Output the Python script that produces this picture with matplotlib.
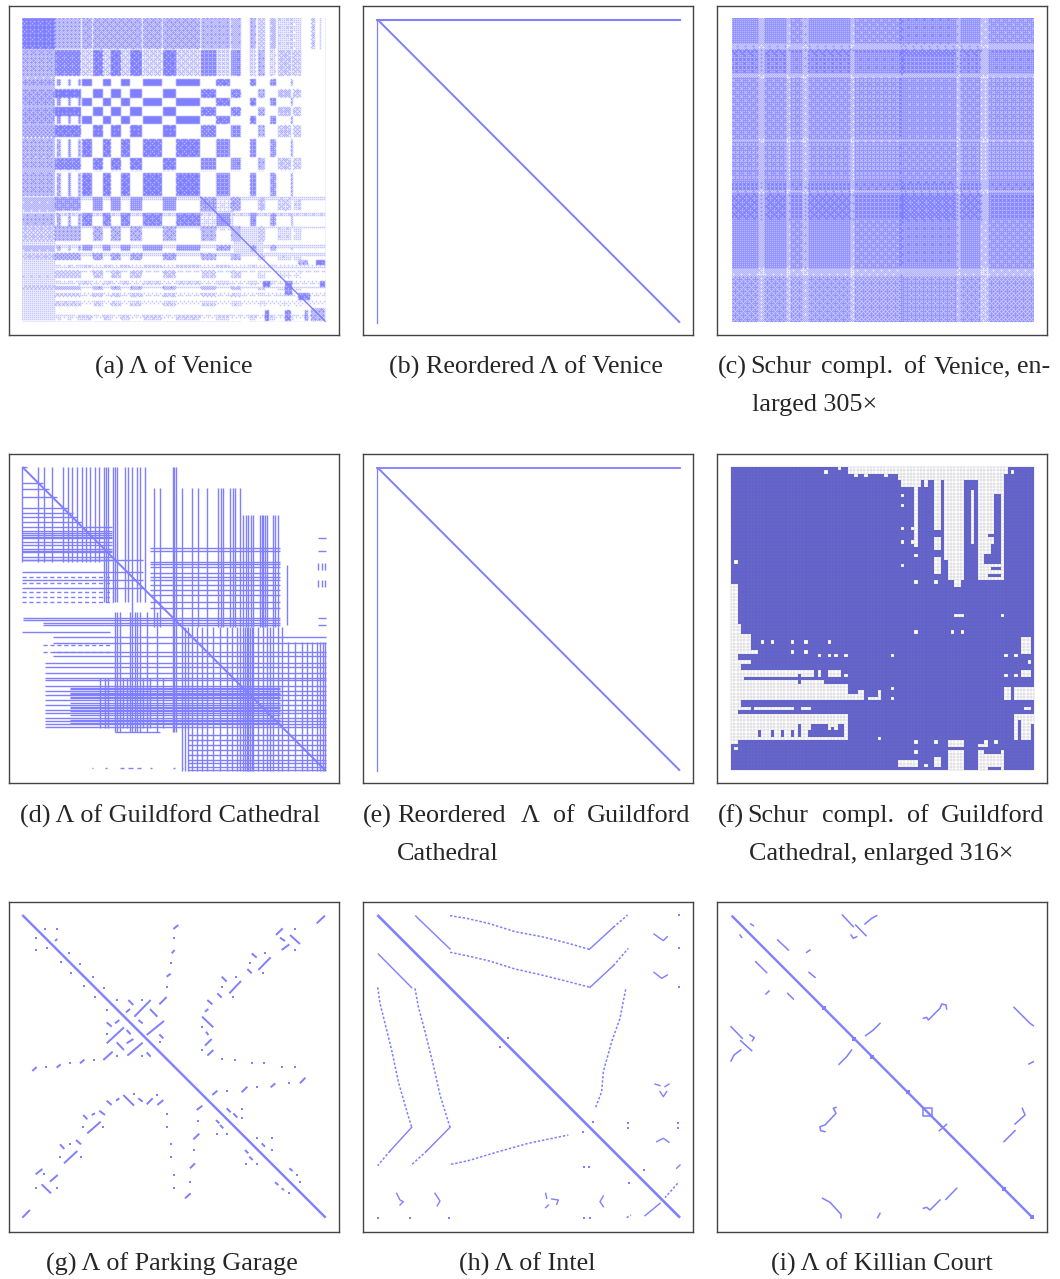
"""
Sparsity patterns of the Lambda matrices and Schur complements (3x3 panels).
All pattern coordinates are read off the picture, in 3x-crop pixels of each panel.
"""
import numpy as np
import matplotlib
matplotlib.use('Agg')
import matplotlib.pyplot as plt
from matplotlib.colors import LinearSegmentedColormap

W, H = 1060, 1279
BLUE = '#7f7fff'
BLUE_DARK = '#6060d2'
TEXT = '#262626'

plt.rcParams['font.family'] = ['Liberation Serif', 'DejaVu Serif']

# panel frames in image pixels: x0, x1, y0, y1
boxes = {
    'a': (9, 339, 6, 335), 'b': (363, 693, 6, 335), 'c': (717, 1047, 6, 335),
    'd': (9, 339, 454, 783), 'e': (363, 693, 454, 783), 'f': (717, 1047, 454, 783),
    'g': (9, 339, 902, 1232), 'h': (363, 693, 902, 1232), 'i': (717, 1047, 902, 1232),
}
# origin of the crop in which each panel's coordinates were read
crops = {
    'a': (0, 0), 'b': (355, -3), 'c': (710, 0),
    'd': (0, 445), 'e': (355, 445), 'f': (710, 445),
    'g': (0, 895), 'h': (355, 895), 'i': (710, 895),
}

# (a) band tables: start, end, density
a_rows_p = [(155, 232, .9), (272, 298, 1), (325, 352, 1), (378, 416, .95), (478, 515, .9),
            (592, 635, .75), (680, 725, .6), (760, 780, .65), (810, 835, .4), (860, 870, .55),
            (880, 892, .4), (905, 920, .35)]
a_rows_q = [(240, 262, 1), (298, 322, 1), (352, 376, 1), (420, 476, .9), (520, 590, .9),
            (640, 678, .85), (735, 755, .75), (795, 805, .45), (845, 855, .35), (945, 960, .35)]
a_cols_p = [(165, 245, .95), (280, 310, 1), (335, 365, 1), (390, 428, 1), (490, 530, 1),
            (605, 650, .9), (695, 725, .85), (775, 795, .6), (835, 875, .45), (880, 905, .4)]
a_cols_q = [(248, 278, 1), (310, 335, 1), (365, 390, 1), (430, 487, 1), (530, 600, 1),
            (650, 690, .9), (750, 770, .9), (812, 830, .8), (875, 880, .6)]
a_cols_far = [(935, 945, .7), (960, 968, .5)]
a_left_stripes = [(173, 183), (205, 215), (235, 245)]
a_diag_blocks = [(600, 700, 590, 690, .2), (700, 790, 680, 770, .25), (790, 810, 845, 862, .95),
                 (855, 878, 845, 885, .85), (895, 930, 880, 900, .85), (935, 977, 925, 965, .6),
                 (795, 808, 930, 965, .95), (855, 875, 930, 965, .85), (915, 925, 930, 965, .7),
                 (960, 977, 845, 862, .95), (950, 977, 780, 795, .95), (895, 925, 780, 795, .6)]
a_diag_line = (600, 590, 977, 965)

# (c) plaid levels
c_rows = [(57, 135, .85), (135, 150, .6), (150, 165, .95), (165, 225, .9), (225, 238, .55),
          (238, 420, .82), (420, 430, .55), (430, 545, .8), (545, 570, .92), (570, 580, .6),
          (580, 660, .95), (660, 805, .85), (805, 830, .55), (830, 966, .75)]
c_cols = [(66, 145, .88), (145, 165, .6), (165, 228, .88), (228, 242, .55), (242, 280, .85),
          (280, 295, .6), (295, 425, .88), (425, 435, .55), (435, 570, .85), (570, 582, 1),
          (582, 740, .9), (740, 752, .6), (752, 815, .88), (815, 838, .55), (838, 972, .85)]

# ordered threshold tile used to turn a band density into on/off entries
threshold_tile = [[0, 32, 8, 40, 2, 34, 10, 42],
                  [48, 16, 56, 24, 50, 18, 58, 26],
                  [12, 44, 4, 36, 14, 46, 6, 38],
                  [60, 28, 52, 20, 62, 30, 54, 22],
                  [3, 35, 11, 43, 1, 33, 9, 41],
                  [51, 19, 59, 27, 49, 17, 57, 25],
                  [15, 47, 7, 39, 13, 45, 5, 37],
                  [63, 31, 55, 23, 61, 29, 53, 21]]
# slight print blur
blur_kernel = [[.04, .1, .04],
               [.1, .44, .1],
               [.04, .1, .04]]

# (b)/(e) border arrow pattern
e_top = (67, 68, 975)
e_left = (67, 68, 977)
e_diag = (68, 68, 975, 977)

# (d) vertical lines: x, y0, y1
d_vlines = [(x, 66, 350) for x in [67, 115, 133, 157, 190, 205, 215, 230, 245, 258, 270, 285, 297]]
d_vlines += [(x, 66, 470) for x in [312, 318, 325, 338, 344, 350, 375, 385, 410, 420, 435]]
d_vlines += [(x, 130, 545) for x in [462, 480, 547, 575, 595, 620, 655, 662, 668, 690, 700, 705, 720]]
d_vlines += [(x, 66, 860) for x in [518, 523, 528, 395]]
d_vlines += [(x, 210, 545) for x in [730, 738, 745, 752, 760, 780, 785, 790, 795, 800, 818, 825, 835]]
d_vlines += [(x, 545, 977) for x in [545, 555, 565, 575, 590, 605, 620, 640, 660, 680, 695, 710, 720,
                                      730, 735, 740, 745, 750, 755, 760, 775, 790, 800, 810, 820, 835, 845]]
d_vlines += [(x, 590, 977) for x in [865, 885, 905, 920, 935, 950, 960, 970, 976]]
d_vlines += [(x, 500, 860) for x in [345, 352, 360, 390, 405, 410, 420, 440, 470]]
d_vlines += [(x, 700, 850) for x in [300, 315, 325, 370, 380, 430, 450, 490]]
d_vlines += [(x, 360, 540) for x in [860]]
d_vlines += [(x, 355, 375) for x in [955, 965, 975]]
d_vlines += [(x, 405, 425) for x in [955, 965, 975]]

# (d) horizontal lines: y, x0, x1
d_hlines = [(y, 67, y + 15) for y in [66, 115, 133, 157, 190, 205, 215, 230]]
d_hlines += [(y, 67, 335) for y in [245, 258, 265, 270, 275, 280, 290, 300, 312, 318, 322, 335, 345]]
d_hlines += [(y, 67, 430) for y in [345, 380, 405, 430]]
d_hlines += [(y, 450, 840) for y in [310, 318, 350, 358, 365, 385, 395, 405, 420, 435, 450, 470, 490]]
d_hlines += [(y, 70, 840) for y in [520, 524]]
d_hlines += [(y, 130, 840) for y in [533, 540]]
d_hlines += [(y, 67, 330) for y in [560]]
d_hlines += [(y, 160, 977) for y in [575, 595, 622, 632]]
d_hlines += [(y, 135, 977) for y in [655, 665, 685, 698, 705, 722, 738, 750, 765, 780, 795, 803,
                                      818, 828, 838, 845]]
d_hlines += [(y, 210, 840) for y in [728, 733, 743, 748, 755, 760, 775, 785, 790, 798, 810, 825, 833]]
d_hlines += [(y, 565, 977) for y in [870, 885, 900, 915, 930, 945, 955, 965, 975]]
d_hlines += [(970, x0, x1) for x0, x1 in [(275, 280), (315, 320), (360, 372), (385, 398), (410, 422),
                                          (450, 455), (520, 525), (545, 550)]]
d_hlines += [(y, 955, 977) for y in [278, 318, 520, 540]]
d_hlines += [(y, 345, 480) for y in [860]]
d_dashed = [(y, 67, 340) for y in [395, 415, 440, 455, 470]]
d_dashed += [(y, 130, 330) for y in [600, 620]]
d_diag = (67, 66, 977, 977)

# (f) white rectangles: x0, x1, y0, y1
f_white = [(380, 392, 66, 76), (410, 890, 66, 85), (430, 440, 85, 95), (460, 470, 85, 95),
           (520, 530, 85, 95), (560, 885, 85, 105), (570, 630, 105, 125), (610, 625, 125, 310),
           (635, 675, 85, 105), (645, 655, 105, 125), (675, 695, 100, 260), (675, 695, 280, 320),
           (675, 695, 335, 390), (705, 765, 85, 345), (715, 765, 345, 410), (735, 755, 410, 425),
           (785, 795, 135, 300), (805, 882, 85, 150), (805, 855, 150, 300), (875, 882, 150, 410),
           (805, 845, 300, 330), (805, 825, 330, 410), (825, 875, 355, 410),
           (63, 83, 415, 560), (63, 93, 540, 570), (63, 123, 570, 615), (63, 143, 615, 625),
           (63, 83, 625, 660), (83, 123, 650, 660), (63, 93, 660, 680), (63, 103, 680, 710),
           (103, 310, 680, 698), (320, 330, 680, 698), (350, 390, 680, 698),
           (63, 340, 710, 770), (340, 410, 720, 770), (410, 460, 745, 770), (470, 515, 760, 770),
           (63, 93, 770, 785), (63, 83, 785, 810), (83, 123, 790, 797), (133, 250, 790, 797),
           (270, 300, 790, 797), (63, 410, 810, 885), (63, 83, 885, 897),
           (715, 765, 920, 977), (805, 880, 915, 977), (568, 620, 945, 965), (675, 695, 935, 965),
           (915, 972, 730, 770), (915, 972, 810, 885), (885, 905, 730, 765), (935, 960, 575, 630),
           (935, 960, 680, 697), (945, 962, 790, 800), (715, 765, 890, 905), (805, 830, 900, 906),
           (500, 510, 735, 760), (440, 460, 735, 742)]
# blue bars put back inside the white areas
f_blue = [(855, 875, 145, 155), (855, 875, 185, 195), (855, 875, 215, 225), (855, 875, 245, 255),
          (835, 875, 265, 275), (855, 875, 295, 305), (845, 875, 305, 345), (825, 875, 335, 355),
          (845, 875, 365, 372), (835, 875, 385, 395), (143, 153, 858, 880), (183, 193, 858, 880),
          (213, 223, 858, 880), (243, 253, 858, 880), (263, 273, 838, 880), (293, 400, 858, 880),
          (303, 350, 838, 858), (360, 370, 850, 858), (380, 400, 838, 858),
          (103, 270, 700, 710), (260, 272, 690, 720), (825, 875, 920, 930), (835, 875, 965, 977),
          (925, 935, 830, 885), (962, 972, 838, 885), (785, 795, 945, 965)]
# isolated flipped cells: x, y
f_white_dots = [(345, 80), (907, 80), (78, 348), (582, 155), (582, 185), (582, 250), (612, 250),
                (582, 290), (612, 290), (582, 358), (620, 328), (620, 408), (680, 408), (877, 507),
                (620, 556), (730, 556), (760, 556), (740, 507), (750, 507), (760, 507),
                (155, 586), (185, 586), (245, 586), (285, 586), (355, 586), (245, 616), (285, 616),
                (325, 626), (360, 626), (380, 626), (403, 626), (552, 626), (887, 626), (917, 626),
                (957, 655), (403, 686), (887, 686), (917, 686), (552, 735), (552, 765), (503, 883),
                (78, 912), (620, 893), (680, 893), (830, 893), (857, 893), (620, 923), (650, 963)]

# (g) short diagonal runs: x0, y0, x1, y1
g_main = (67, 60, 977, 968)
g_segs = [(950, 85, 975, 62), (97, 528, 110, 516), (67, 968, 90, 945), (555, 910, 572, 895),
          (165, 138, 172, 132), (520, 102, 535, 90), (515, 175, 524, 165), (500, 245, 512, 236),
          (478, 328, 500, 306), (385, 315, 400, 330), (403, 365, 452, 315), (378, 352, 390, 342),
          (450, 342, 472, 365), (320, 382, 335, 395), (345, 385, 358, 375), (415, 375, 428, 385),
          (440, 420, 492, 378), (320, 445, 372, 397), (380, 405, 392, 418), (350, 442, 372, 465),
          (380, 445, 400, 432), (382, 482, 428, 443), (478, 418, 490, 430), (310, 495, 338, 470),
          (440, 472, 452, 485), (170, 518, 182, 508), (240, 505, 253, 494), (828, 120, 848, 100),
          (840, 128, 855, 138), (870, 120, 900, 147), (845, 165, 868, 148), (755, 175, 770, 188),
          (742, 222, 755, 235), (775, 225, 812, 187), (665, 245, 680, 260), (688, 295, 723, 258),
          (652, 295, 665, 308), (622, 315, 637, 328), (615, 350, 625, 342), (606, 365, 640, 397),
          (618, 410, 625, 420), (615, 452, 635, 432), (622, 482, 640, 465), (900, 565, 916, 548),
          (812, 577, 826, 565), (725, 592, 742, 575), (637, 600, 652, 587), (590, 645, 607, 632),
          (680, 640, 692, 652), (700, 655, 712, 668), (648, 675, 658, 685), (660, 690, 670, 700),
          (580, 733, 598, 716), (570, 820, 585, 805), (785, 745, 795, 755), (735, 765, 745, 775),
          (748, 785, 758, 795), (868, 820, 878, 828), (825, 862, 835, 870), (845, 880, 852, 885),
          (320, 617, 335, 630), (348, 617, 358, 610), (370, 600, 402, 632), (415, 610, 428, 620),
          (440, 628, 458, 610), (472, 630, 490, 615), (298, 647, 315, 660), (250, 660, 262, 673),
          (275, 660, 285, 655), (262, 715, 302, 680), (180, 748, 193, 762), (228, 735, 243, 748),
          (192, 805, 232, 768), (107, 838, 127, 822), (150, 860, 173, 840), (125, 868, 153, 895)]
g_dots = [(135, 102), (170, 102), (108, 130), (108, 165), (140, 160), (208, 175), (182, 202),
          (240, 208), (213, 235), (278, 245), (252, 272), (312, 278), (285, 305), (522, 130),
          (512, 205), (500, 275), (350, 316), (425, 316), (322, 345), (322, 418), (480, 442),
          (350, 482), (425, 482), (138, 517), (210, 505), (283, 494), (885, 102), (885, 165),
          (795, 175), (750, 205), (790, 235), (708, 245), (665, 275), (700, 305), (605, 397),
          (605, 465), (665, 493), (705, 495), (755, 505), (792, 505), (847, 517), (885, 517),
          (868, 563), (770, 575), (682, 588), (595, 677), (725, 642), (725, 668), (650, 718),
          (680, 718), (582, 765), (570, 860), (770, 730), (815, 730), (815, 765), (738, 808),
          (770, 808), (890, 840), (900, 860), (868, 895), (402, 598), (472, 600), (500, 658),
          (500, 697), (512, 747), (512, 785), (522, 840), (522, 880), (250, 697), (310, 695),
          (210, 748), (180, 787), (242, 787), (132, 838), (107, 878), (170, 880)]

# (h) solid lines and dotted traces
h_main = (67, 60, 975, 968)
h_solid = [[(182, 63), (285, 162)], [(70, 177), (170, 278)], [(703, 163), (775, 97)],
           [(705, 277), (775, 212)], [(170, 697), (105, 768)], [(285, 697), (215, 768)],
           [(870, 962), (915, 925)]]
h_dotted = [[(285, 62), (335, 70), (400, 85), (480, 110), (560, 125), (640, 145), (703, 163)],
            [(775, 97), (818, 60)],
            [(285, 172), (335, 182), (400, 197), (480, 222), (560, 240), (640, 260), (705, 277)],
            [(775, 212), (820, 160)],
            [(68, 277), (75, 325), (90, 385), (110, 465), (130, 560), (150, 630), (170, 697)],
            [(105, 768), (68, 812)],
            [(180, 280), (190, 335), (210, 410), (235, 510), (255, 600), (285, 697)],
            [(215, 768), (167, 812)],
            [(812, 283), (795, 370), (770, 440), (745, 530), (740, 590), (722, 637)],
            [(288, 808), (340, 797), (430, 770), (520, 745), (640, 720)],
            [(968, 865), (930, 908)], [(815, 968), (828, 960)]]
h_squiggles = [[(897, 117), (915, 130), (925, 137), (937, 125)], [(897, 232), (920, 250), (937, 240)],
               [(905, 740), (925, 730), (942, 742)], [(125, 895), (135, 915), (145, 920), (135, 930)],
               [(240, 895), (255, 918), (247, 932)], [(572, 895), (575, 910)],
               [(590, 912), (610, 915), (605, 928)], [(572, 938), (580, 930)],
               [(745, 903), (735, 920), (745, 935)], [(900, 567), (915, 572)], [(930, 575), (942, 567)],
               [(915, 590), (925, 605), (935, 590)], [(965, 820), (975, 810)]]
h_dots = [(972, 60), (972, 158), (972, 275), (435, 457), (460, 430), (820, 683), (820, 700),
          (970, 683), (970, 700), (714, 680), (683, 710), (688, 815), (703, 815), (868, 825),
          (822, 865), (68, 968), (165, 968), (282, 968), (687, 968), (705, 968)]

# (i) curved pieces
i_main = (65, 62, 965, 965)
i_lines = [[(122, 87), (130, 92)], [(90, 120), (95, 127)], [(203, 135), (235, 165)],
           [(290, 172), (300, 165)], [(137, 200), (170, 233)], [(297, 232), (315, 247)],
           [(168, 297), (177, 288)], [(233, 295), (250, 312)], [(397, 60), (430, 95)],
           [(437, 90), (468, 122)], [(465, 87), (485, 70), (500, 62)],
           [(423, 120), (430, 130), (440, 125)],
           [(640, 370), (650, 367), (655, 375), (690, 340), (695, 327), (708, 330), (710, 342)],
           [(912, 337), (960, 385), (970, 392)], [(467, 422), (490, 405), (510, 385)],
           [(387, 508), (410, 485), (425, 465)], [(63, 395), (97, 430)], [(92, 437), (125, 467)],
           [(120, 420), (133, 428), (127, 437)], [(63, 498), (72, 480), (92, 465)],
           [(957, 507), (970, 500)],
           [(378, 637), (370, 640), (378, 655), (345, 690), (330, 695), (332, 707), (345, 710)],
           [(882, 740), (915, 707)], [(915, 687), (945, 660), (937, 640)],
           [(338, 910), (360, 922), (393, 958), (393, 968)], [(503, 968), (510, 955)],
           [(640, 940), (650, 937), (660, 945), (690, 915)], [(708, 913), (740, 880)],
           [(688, 707), (710, 688)], [(640, 640), (640, 662), (665, 662), (665, 640), (640, 640)]]
i_dots = [(342, 340), (433, 432), (487, 485), (595, 592), (883, 882), (965, 965)]

# captions: words with their left edge in image pixels
captions = [
    (367, [(95, '(a) Λ of Venice')]),
    (367, [(389, '(b) Reordered Λ of Venice')]),
    (367, [(718, '(c)'), (750, 'Schur'), (821, 'compl.'), (904, 'of'), (934, 'Venice,'), (1017, 'en-')]),
    (405, [(752, 'larged 305×')]),
    (816, [(20, '(d) Λ of Guildford Cathedral')]),
    (816, [(363, '(e)'), (397, 'Reordered'), (521, 'Λ'), (553, 'of'), (587, 'Guildford')]),
    (854, [(397, 'Cathedral')]),
    (816, [(718, '(f)'), (747, 'Schur'), (822, 'compl.'), (907, 'of'), (941, 'Guildford')]),
    (854, [(749, 'Cathedral, enlarged 316×')]),
    (1264, [(46, '(g) Λ of Parking Garage')]),
    (1264, [(459, '(h) Λ of Intel')]),
    (1264, [(771, '(i) Λ of Killian Court')]),
]

fig = plt.figure(figsize=(W / 100, H / 100), dpi=100, facecolor='white')
cmap = LinearSegmentedColormap.from_list('spy', ['white', BLUE])


def panel(key):
    x0, x1, y0, y1 = boxes[key]
    cx, cy = crops[key]
    ax = fig.add_axes([x0 / W, 1 - y1 / H, (x1 - x0) / W, (y1 - y0) / H])
    ax.set_xticks([])
    ax.set_yticks([])
    for s in ax.spines.values():
        s.set_color('#444444')
        s.set_linewidth(1.0)
    ax.frame_limits = ((x0 - cx) * 3, (x1 - cx) * 3, (y1 - cy) * 3, (y0 - cy) * 3)
    set_frame(ax)
    return ax


def set_frame(ax):
    ax.set_xlim(ax.frame_limits[0], ax.frame_limits[1])
    ax.set_ylim(ax.frame_limits[2], ax.frame_limits[3])


def seg(ax, s, lw=1.0, color=BLUE, **kw):
    ax.plot([s[0], s[2]], [s[1], s[3]], color=color, lw=lw, solid_capstyle='butt', **kw)


def paint(img, ext, x0, x1, y0, y1, v):
    i0 = max((y0 - ext[2]) // 3, 0)
    i1 = max((y1 - ext[2]) // 3, i0 + 1)
    j0 = max((x0 - ext[0]) // 3, 0)
    j1 = max((x1 - ext[0]) // 3, j0 + 1)
    img[i0:i1, j0:j1] = np.maximum(img[i0:i1, j0:j1], v)


def threshold(img):
    t = (np.array(threshold_tile) + 0.5) / 64
    reps = (img.shape[0] // t.shape[0] + 1, img.shape[1] // t.shape[1] + 1)
    on = (img > np.tile(t, reps)[:img.shape[0], :img.shape[1]]).astype(float)
    out = np.zeros_like(on)
    for di, row in zip((-1, 0, 1), blur_kernel):
        for dj, k in zip((-1, 0, 1), row):
            out += k * np.roll(np.roll(on, di, axis=0), dj, axis=1)
    return out


def show(ax, img, ext):
    ax.imshow(img, cmap=cmap, vmin=0, vmax=1, extent=(ext[0], ext[1], ext[3], ext[2]),
              interpolation='nearest', aspect='auto')
    set_frame(ax)


# (a)
ax = panel('a')
ext = (66, 978, 57, 966)
img = np.zeros(((ext[3] - ext[2]) // 3, (ext[1] - ext[0]) // 3))
for rows, cols in [(a_rows_p, a_cols_p), (a_rows_q, a_cols_q)]:
    for r0, r1, rv in rows:
        for c0, c1, cv in cols:
            paint(img, ext, c0, c1, r0, r1, rv * cv)
# stripes across the top rows and down the left columns
for c0, c1, cv in a_cols_p + a_cols_q + a_cols_far:
    paint(img, ext, c0, c1, 57, 150, .6 * cv)
paint(img, ext, 67, 165, 150, 590, .45)
paint(img, ext, 67, 165, 590, 965, .25)
for r0, r1, rv in a_rows_p + a_rows_q:
    paint(img, ext, 67, 165, r0, r1, .65 * rv)
    if r0 > 590:
        paint(img, ext, 165, 977, r0, r0 + 9, .4 * rv)
for c0, c1 in a_left_stripes:
    for r0, r1, rv in a_rows_q:
        paint(img, ext, c0, c1, r0, r1, .75 * rv)
for c0, c1, cv in a_cols_q:
    paint(img, ext, c0, c1, 155, 232, .35 * cv)
paint(img, ext, 67, 165, 57, 150, .92)
for x0, x1, y0, y1, v in a_diag_blocks:
    paint(img, ext, x0, x1, y0, y1, v)
show(ax, threshold(img), ext)
seg(ax, a_diag_line, lw=1.0)

# (b)
ax = panel('b')
ax.plot([e_top[0], e_top[2]], [e_top[1], e_top[1]], color=BLUE, lw=1.5)
ax.plot([e_left[0], e_left[0]], [e_left[1], e_left[2]], color=BLUE, lw=0.9)
seg(ax, e_diag, lw=1.4)

# (c)
ax = panel('c')
ext = (66, 972, 57, 966)
img = np.zeros(((ext[3] - ext[2]) // 3, (ext[1] - ext[0]) // 3))
for r0, r1, rv in c_rows:
    for c0, c1, cv in c_cols:
        paint(img, ext, c0, c1, r0, r1, rv * cv)
show(ax, threshold(img), ext)

# (d)
ax = panel('d')
ax.vlines([v[0] for v in d_vlines], [v[1] for v in d_vlines], [v[2] for v in d_vlines],
          color=BLUE, lw=1.0)
ax.hlines([h[0] for h in d_hlines], [h[1] for h in d_hlines], [h[2] for h in d_hlines],
          color=BLUE, lw=1.0)
ax.hlines([h[0] for h in d_dashed], [h[1] for h in d_dashed], [h[2] for h in d_dashed],
          color=BLUE, lw=1.0, linestyles=[(0, (3, 2))])
seg(ax, d_diag, lw=1.4)

# (e)
ax = panel('e')
ax.plot([e_top[0], e_top[2]], [e_top[1], e_top[1]], color=BLUE, lw=1.3)
ax.plot([e_left[0], e_left[0]], [e_left[1], e_left[2]], color=BLUE, lw=0.9)
seg(ax, e_diag, lw=1.4)

# (f)
ax = panel('f')
ext = (63, 973, 66, 976)
cell = 10
ny, nx = (ext[3] - ext[2]) // cell, (ext[1] - ext[0]) // cell
mask = np.ones((ny, nx))
to_j = lambda v: int(round((v - ext[0]) / cell))
to_i = lambda v: int(round((v - ext[2]) / cell))
for x0, x1, y0, y1 in f_white:
    mask[to_i(y0):to_i(y1), to_j(x0):to_j(x1)] = 0
for x0, x1, y0, y1 in f_blue:
    mask[to_i(y0):to_i(y1), to_j(x0):to_j(x1)] = 1
for x, y in f_white_dots:
    mask[int((y - ext[2]) / cell), int((x - ext[0]) / cell)] = 0
xe = ext[0] + cell * np.arange(nx + 1)
ye = ext[2] + cell * np.arange(ny + 1)
f_cmap = LinearSegmentedColormap.from_list('f', ['white', BLUE_DARK])
ax.pcolormesh(xe, ye, mask, cmap=f_cmap, vmin=0, vmax=1, shading='flat')
ax.vlines(xe, ye[0], ye[-1], color='#808090', lw=0.3, alpha=0.55)
ax.hlines(ye, xe[0], xe[-1], color='#808090', lw=0.3, alpha=0.55)
set_frame(ax)

# (g)
ax = panel('g')
seg(ax, g_main, lw=1.7)
for s in g_segs:
    seg(ax, s, lw=1.4)
ax.plot([d[0] for d in g_dots], [d[1] for d in g_dots], 's', color=BLUE, ms=1.7, mew=0)

# (h)
ax = panel('h')
seg(ax, h_main, lw=1.9)
for line in h_solid:
    ax.plot(*zip(*line), color=BLUE, lw=1.0)
for line in h_dotted:
    ax.plot(*zip(*line), color=BLUE, lw=1.1, linestyle=(0, (1.6, 1.2)))
for line in h_squiggles:
    ax.plot(*zip(*line), color=BLUE, lw=1.0)
ax.plot([d[0] for d in h_dots], [d[1] for d in h_dots], 's', color=BLUE, ms=1.5, mew=0)

# (i)
ax = panel('i')
seg(ax, i_main, lw=1.7)
for line in i_lines:
    ax.plot(*zip(*line), color=BLUE, lw=1.1)
ax.plot([d[0] for d in i_dots], [d[1] for d in i_dots], 's', color=BLUE, ms=3, mew=0)

for y, words in captions:
    for x, word in words:
        fig.text(x / W, 1 - y / H, word, fontsize=18.8, color=TEXT, ha='left', va='center')

fig.savefig('out.png', dpi=100)
